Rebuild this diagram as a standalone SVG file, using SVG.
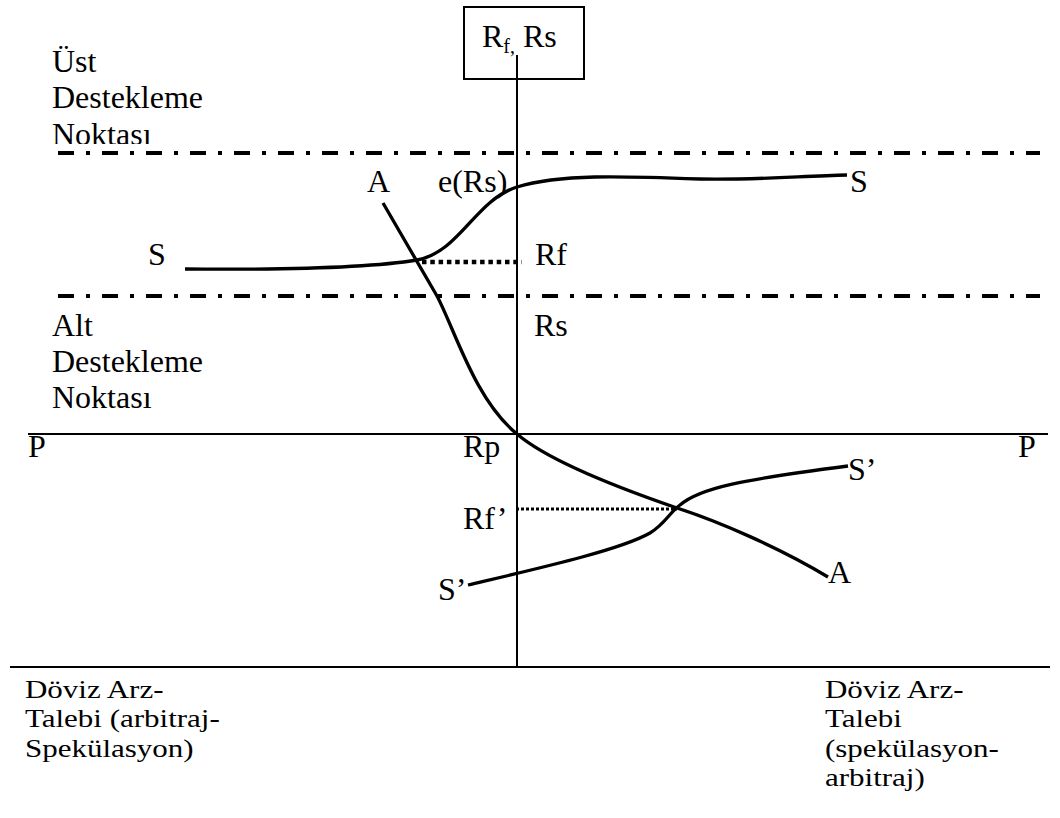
<svg xmlns="http://www.w3.org/2000/svg" width="1060" height="818" viewBox="0 0 1060 818" font-family="'Liberation Serif', 'Times New Roman', Times, 'DejaVu Serif', serif">
<style>
text{font-family:'Liberation Serif','Times New Roman',Times,'DejaVu Serif',serif;font-size:32px;fill:#000}
.bt{font-size:31px}
.sub{font-size:20px}
.ax{stroke:#000;stroke-width:2;fill:none}
.cv{stroke:#000;stroke-width:3.3;fill:none}
.dd{stroke:#000;stroke-width:4;fill:none;stroke-dasharray:16 12 4 12}
.dot{stroke:#000;stroke-width:4.5;fill:none;stroke-dasharray:4.5 3.8}
.dot2{stroke:#000;stroke-width:3;fill:none;stroke-dasharray:3 2}
</style>
<defs>
<clipPath id="clipN"><rect x="0" y="0" width="300" height="144"/></clipPath>
</defs>
<rect x="0" y="0" width="1060" height="818" fill="#fff"/>
<g id="axes">
<rect x="464" y="7" width="120" height="72" class="ax"/>
<line x1="517" y1="55" x2="517" y2="668" class="ax"/>
<line x1="28" y1="434" x2="1048" y2="434" class="ax"/>
<line x1="10" y1="667" x2="1050" y2="667" class="ax"/>
</g>
<g id="support-lines">
<line x1="58" y1="153" x2="1040" y2="153" class="dd"/>
<line x1="58" y1="296" x2="1040" y2="296" class="dd"/>
</g>
<g id="connectors">
<path id="S-curve" class="cv" d="M185,269 C300,270 375,267 417,260 C460,252 475,200 517,187 C560,174 620,176 700,179 C760,180 800,176 847,175"/>
<path id="A-curve" class="cv" d="M383,203 L437,296 C455,330 475,400 517,434 C545,458 610,485 677,508 C720,522 780,548 828,577"/>
<path id="S2-curve" class="cv" d="M468,585 C540,568 620,550 650,533 C665,524 670,512 680,505 C700,488 740,480 848,466"/>
<line id="Rf-dots" x1="422" y1="262" x2="522" y2="262" class="dot"/>
<line id="Rf2-dots" x1="516" y1="509" x2="677" y2="509" class="dot2"/>
</g>
<g id="box-label">
<text x="482" y="47">R<tspan class="sub" dy="6">f,</tspan><tspan dy="-6"> Rs</tspan></text>
</g>
<g id="upper-label" clip-path="url(#clipN)">
<text x="52" y="72">Üst</text>
<text x="52" y="108">Destekleme</text>
<text x="52" y="144.5">Noktası</text>
</g>
<g id="lower-label">
<text x="52" y="336">Alt</text>
<text x="52" y="372">Destekleme</text>
<text x="52" y="408">Noktası</text>
</g>
<g id="curve-labels">
<text x="367" y="192">A</text>
<text x="438" y="192">e(Rs)</text>
<text x="850" y="192">S</text>
<text x="148" y="265">S</text>
<text x="535" y="265">Rf</text>
<text x="534" y="336">Rs</text>
<text x="28" y="457">P</text>
<text x="1018" y="457">P</text>
<text x="463" y="457">Rp</text>
<text x="848" y="480">S’</text>
<text x="463" y="529">Rf’</text>
<text x="438" y="600">S’</text>
<text x="828" y="583">A</text>
</g>
<g id="bottom-left" transform="translate(25,0) scale(1,0.82)">
<text class="bt" x="0" y="851">Döviz Arz-</text>
<text class="bt" x="0" y="887">Talebi (arbitraj-</text>
<text class="bt" x="0" y="923">Spekülasyon)</text>
</g>
<g id="bottom-right" transform="translate(825,0) scale(1,0.82)">
<text class="bt" x="0" y="851">Döviz Arz-</text>
<text class="bt" x="0" y="887">Talebi</text>
<text class="bt" x="0" y="923">(spekülasyon-</text>
<text class="bt" x="0" y="959">arbitraj)</text>
</g>
</svg>
